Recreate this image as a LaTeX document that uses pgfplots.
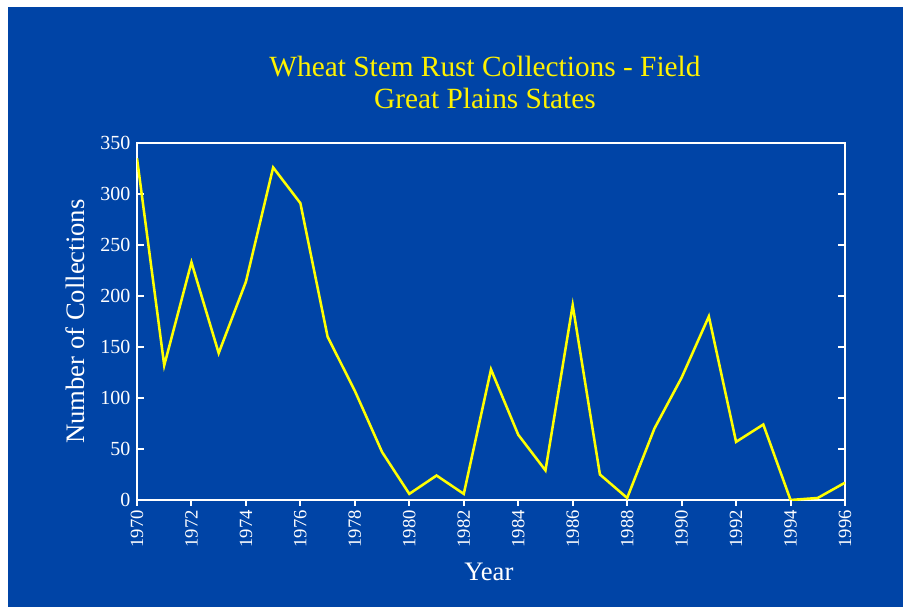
\documentclass[border=0pt]{standalone}
\usepackage{fontspec}
\setmainfont{Liberation Serif}
\usepackage{pgfplots}
\usepackage{pgfplotstable}
\pgfplotsset{compat=1.18}
\definecolor{bgblue}{RGB}{0,68,166}
\definecolor{ttlyellow}{RGB}{255,242,0}
\definecolor{lineyellow}{RGB}{255,255,0}

\pgfplotstableread{
year count
1970 335
1971 132
1972 233
1973 144
1974 214
1975 326
1976 291
1977 160
1978 107
1979 47
1980 6
1981 24
1982 6
1983 128
1984 64
1985 29
1986 191
1987 25
1988 2
1989 70
1990 120
1991 180
1992 57
1993 74
1994 0
1995 2
1996 17
}\rustdata

\begin{document}
\begin{tikzpicture}
\useasboundingbox (0pt,0pt) rectangle (677.25pt,455.25pt);
\fill[white] (0pt,0pt) rectangle (677.25pt,455.25pt);
\fill[bgblue] (6pt,0pt) rectangle (677.25pt,450pt);
\begin{axis}[
  at={(102.75pt,80.25pt)}, anchor=south west,
  scale only axis, width=531pt, height=267.75pt,
  xmin=1970, xmax=1996, ymin=0, ymax=350,
  axis line style={white, line width=1.5pt},
  tick align=inside,
  major tick length=5.5pt,
  every tick/.style={white, line width=1.5pt},
  xtick=\empty,
  ytick={0,50,...,350},
  ytick pos=both, yticklabel pos=left,
  /pgf/number format/assume math mode=true,
  /pgf/number format/1000 sep={},
  yticklabel style={font=\fontsize{15}{17}\selectfont, text=white, xshift=-1.5pt},
  ylabel={Number of Collections},
  ylabel style={font=\fontsize{20}{24}\selectfont, text=white,
    at={(axis description cs:-0.0876,0.5)}, anchor=center},
  title={Wheat Stem Rust Collections - Field\\Great Plains States},
  title style={font=\fontsize{22}{24}\selectfont, text=ttlyellow, align=center,
    at={(axis description cs:0.4915,1.146)}, anchor=center},
]
\addplot[lineyellow, line width=1.9pt, mark=none] table[x=year, y=count] {\rustdata};
\end{axis}
\begin{axis}[
  at={(102.75pt,80.25pt)}, anchor=south west,
  scale only axis, width=531pt, height=267.75pt,
  xmin=1970, xmax=1996, ymin=0, ymax=350,
  axis line style={draw=none},
  tick align=outside,
  major tick length=4.2pt, minor tick length=4.2pt,
  every tick/.style={white, line width=1.5pt},
  ytick=\empty,
  xtick={1970,1972,...,1996}, minor x tick num=1,
  xtick pos=left,
  /pgf/number format/assume math mode=true,
  /pgf/number format/1000 sep={},
  xticklabel style={font=\fontsize{14}{16}\selectfont, text=white, rotate=90, anchor=east},
  xlabel={Year},
  xlabel style={font=\fontsize{20}{24}\selectfont, text=white,
    at={(axis description cs:0.497,-0.2017)}, anchor=center},
]
\end{axis}
\end{tikzpicture}
\end{document}
